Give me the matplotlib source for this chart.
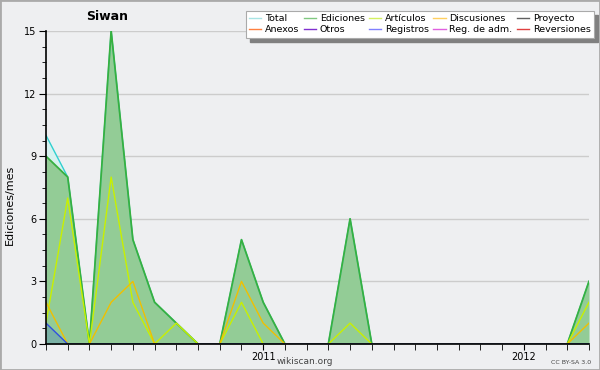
import numpy as np
import matplotlib.pyplot as plt
from matplotlib.lines import Line2D
from matplotlib.patches import Rectangle

months = np.arange(26)  # 2010-03 .. 2012-04
total = [10, 8, 0, 15, 5, 2, 1, 0, 0, 5, 2, 0, 0, 0, 6, 0, 0, 0, 0, 0, 0, 0, 0, 0, 0, 3]
ediciones = [9, 8, 0, 15, 5, 2, 1, 0, 0, 5, 2, 0, 0, 0, 6, 0, 0, 0, 0, 0, 0, 0, 0, 0, 0, 3]
articulos = [1, 7, 0, 8, 2, 0, 1, 0, 0, 2, 0, 0, 0, 0, 1, 0, 0, 0, 0, 0, 0, 0, 0, 0, 0, 2]
discusiones = [2, 0, 0, 2, 3, 0, 0, 0, 0, 3, 1, 0, 0, 0, 0, 0, 0, 0, 0, 0, 0, 0, 0, 0, 0, 1]
registros = [1, 0, 0, 0, 0, 0, 0, 0, 0, 0, 0, 0, 0, 0, 0, 0, 0, 0, 0, 0, 0, 0, 0, 0, 0, 0]
year_ticks = [10, 22]
year_labels = ["2011", "2012"]

legend_names = ["Total", "Ediciones", "Artículos", "Discusiones", "Proyecto",
                "Anexos", "Otros", "Registros", "Reg. de adm.", "Reversiones"]
legend_colors = ["#a8e4e4", "#80c880", "#d4f060", "#ffd060", "#606060",
                 "#ff8040", "#8030d0", "#8080ff", "#e060e0", "#e04040"]

bg = "#eeeff1"
fig = plt.figure(figsize=(6, 3.7), dpi=100, facecolor=bg)
ax = fig.add_axes([46/600, 26/370, 543/600, 313/370])
ax.set_facecolor(bg)

ax.fill_between(months, total, color="#d8f2f0", lw=0)
ax.plot(months, total, color="#30d0d0", lw=1)
ax.fill_between(months, ediciones, color="#93cc96", lw=0)
ax.plot(months, ediciones, color="#38b040", lw=1.3)
ax.plot(months, articulos, color="#c8f000", lw=1)
ax.plot(months, discusiones, color="#f0c000", lw=1)
ax.fill_between(months, registros, color="#6a9fb0", alpha=0.6, lw=0)
ax.plot(months, registros, color="#3050e0", lw=1)

ax.set_xlim(0, 25)
ax.set_ylim(0, 15)
ax.set_yticks([0, 3, 6, 9, 12, 15])
ax.set_yticks(np.arange(0, 15.01, 0.75), minor=True)
ax.set_xticks(months, minor=True)
ax.set_xticks(year_ticks)
ax.set_xticklabels(year_labels)
ax.tick_params(axis="y", which="major", length=5, labelsize=7, pad=2, color="black")
ax.tick_params(axis="y", which="minor", length=3)
ax.tick_params(axis="x", which="both", length=4, labelsize=7, pad=2)
ax.grid(axis="y", color="#cccccc", lw=1)
ax.set_axisbelow(True)
for s in ["top", "right"]:
    ax.spines[s].set_visible(False)
ax.spines["left"].set_linewidth(1.2)
ax.spines["bottom"].set_linewidth(1.2)

fig.text(10/600, 1 - 205/370, "Ediciones/mes", fontsize=8, rotation=90, ha="center", va="center")
fig.text(107/600, 1 - 17/370, "Siwan", fontsize=9, fontweight="bold", ha="center", va="center")
fig.text(305/600, 1 - 361/370, "wikiscan.org", fontsize=6.5, color="#444444", ha="center", va="center")
fig.text(571/600, 1 - 362/370, "CC BY-SA 3.0", fontsize=4.5, color="#444444", ha="center", va="center")

# legend, ordered column-wise for ncol=5
order = [0, 5, 1, 6, 2, 7, 3, 8, 4, 9]
handles = [Line2D([], [], color=legend_colors[i], lw=1) for i in order]
labels = [legend_names[i] for i in order]
leg = fig.legend(handles, labels, ncol=5, loc="upper right", bbox_to_anchor=(594/600, 1 - 11/370),
                 fontsize=6.8, frameon=True, fancybox=False, shadow=False, handlelength=1.3,
                 handletextpad=0.4, columnspacing=0.45, labelspacing=0.2, borderpad=0.35,
                 borderaxespad=0, framealpha=1)
leg.get_frame().set_edgecolor("#aaaaaa")
leg.get_frame().set_facecolor("white")
leg.get_frame().set_linewidth(0.8)
leg.set_zorder(5)
fig.canvas.draw()
bb = leg.get_window_extent().transformed(fig.transFigure.inverted())
fig.patches.append(Rectangle((bb.x0 + 4/600, bb.y0 - 4/370), bb.width, bb.height,
                             transform=fig.transFigure, color="#808080", zorder=1))

fig.patches.append(Rectangle((0, 0), 1, 1, transform=fig.transFigure, fill=False,
                             edgecolor="#aaaaaa", lw=2))

fig.savefig("out.png", dpi=100, facecolor=bg)
